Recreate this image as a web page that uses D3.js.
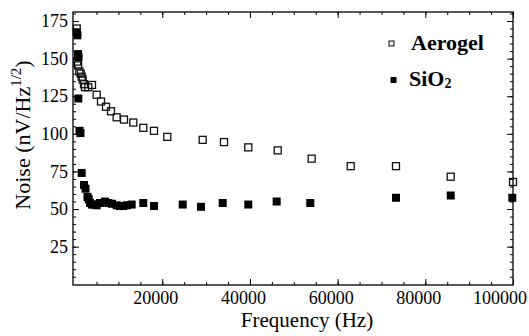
<!DOCTYPE html>
<html>
<head>
<meta charset="utf-8">
<script src="https://cdn.jsdelivr.net/npm/d3@7"></script>
<style>
  body { margin: 0; background: #fff; }
  svg text { font-family: "Liberation Serif", "Times New Roman", serif; fill: #000; }
  .tick text { font-size: 18px; }
  .tick line { stroke: #000; stroke-width: 1; }
</style>
</head>
<body>
<div id="chart"></div>
<script>
// Data
const aerogelFreq = [480, 600, 800, 1070, 1390, 1620, 1850, 2140, 2370, 3120, 3970, 5040, 6020, 7160, 8300,
    9600, 11270, 13390, 15670, 18110, 21140, 29220, 34080, 39620, 46330, 54080, 62980, 73310, 85790, 100000];
const aerogelNoise = [170, 148, 145.5, 141.5, 140, 138, 136, 133, 131, 131, 132.5, 126, 121.5, 118, 115,
    111, 109.5, 107.5, 104, 102, 98, 96, 94.5, 91, 89, 83.5, 78.5, 78.5, 71.5, 68];

const sio2Freq = [500, 650, 800, 900, 850, 1120, 1340, 1620, 2140, 2490, 2940, 3220, 3510, 3970, 4420, 5040,
    5790, 6930, 7690, 8530, 9600, 10360, 11110, 11950, 13020, 15670, 18110, 24660, 28830, 33780, 39620,
    46090, 53760, 73310, 85790, 99840];
const sio2Noise = [167.5, 165.5, 153, 151, 123.5, 102, 100.5, 74, 66, 63.5, 58, 56.5, 54, 53, 53, 52.5,
    54, 55, 54, 53.5, 52.5, 52, 52, 52.5, 53, 54, 52, 53, 51.5, 54, 53,
    55, 54, 57.5, 59, 57.5];

const xMajorTicks = [20000, 40000, 60000, 80000, 100000];
const xMinorTicks = d3.range(5000, 100001, 5000);
const yMajorTicks = [25, 50, 75, 100, 125, 150, 175];
const yMinorTicks = d3.range(5, 181, 5);

const width = 529, height = 336;
const plot = {left: 73, right: 513, top: 12, bottom: 285};

const svg = d3.select("#chart")
    .append("svg")
    .attr("width", width)
    .attr("height", height);

const x = d3.scaleLinear().domain([-365, 100000]).range([plot.left, plot.right]);
const y = d3.scaleLinear().domain([-0.5, 181]).range([plot.bottom, plot.top]);

// Minor ticks, pointing inward on all four sides
svg.append("g")
    .attr("transform", `translate(0,${plot.bottom})`)
    .call(d3.axisBottom(x).tickValues(xMinorTicks).tickSize(-3).tickFormat(""));
svg.append("g")
    .attr("transform", `translate(0,${plot.top})`)
    .call(d3.axisTop(x).tickValues(xMinorTicks).tickSize(-3).tickFormat(""));
svg.append("g")
    .attr("transform", `translate(${plot.left},0)`)
    .call(d3.axisLeft(y).tickValues(yMinorTicks).tickSize(-3).tickFormat(""));
svg.append("g")
    .attr("transform", `translate(${plot.right},0)`)
    .call(d3.axisRight(y).tickValues(yMinorTicks).tickSize(-3).tickFormat(""));

// Major ticks with labels
const xAxis = svg.append("g")
    .attr("transform", `translate(0,${plot.bottom})`)
    .call(d3.axisBottom(x).tickValues(xMajorTicks).tickSize(-6).tickPadding(6).tickFormat(d3.format("d")));
xAxis.selectAll("text").attr("dx", -7);

svg.append("g")
    .attr("transform", `translate(0,${plot.top})`)
    .call(d3.axisTop(x).tickValues(xMajorTicks).tickSize(-6).tickFormat(""));

svg.append("g")
    .attr("transform", `translate(${plot.left},0)`)
    .call(d3.axisLeft(y).tickValues(yMajorTicks).tickSize(-6).tickPadding(5));

svg.append("g")
    .attr("transform", `translate(${plot.right},0)`)
    .call(d3.axisRight(y).tickValues(yMajorTicks).tickSize(-6).tickFormat(""));

svg.selectAll(".domain").remove();

// keep the last x label inside the picture
xAxis.selectAll("text").each(function() {
    const b = this.getBBox();
    const tx = +this.parentNode.getAttribute("transform").match(/translate\(([-\d.]+)/)[1];
    const over = tx + b.x + b.width - (width - 2);
    if (over > 0) d3.select(this).attr("dx", -7 - over);
});

// Frame
svg.append("rect")
    .attr("x", plot.left)
    .attr("y", plot.top)
    .attr("width", plot.right - plot.left)
    .attr("height", plot.bottom - plot.top)
    .attr("fill", "none")
    .attr("stroke", "#000")
    .attr("stroke-width", 1.3);

// Markers
const aerogel = aerogelFreq.map((f, i) => ({f, v: aerogelNoise[i]}));
const sio2 = sio2Freq.map((f, i) => ({f, v: sio2Noise[i]}));
const s = 7;

svg.append("g").selectAll("rect")
    .data(sio2)
    .enter()
    .append("rect")
    .attr("x", d => x(d.f) - s / 2 - 0.5)
    .attr("y", d => y(d.v) - s / 2 - 0.5)
    .attr("width", s + 1)
    .attr("height", s + 1)
    .attr("fill", "#000");

svg.append("g").selectAll("rect")
    .data(aerogel)
    .enter()
    .append("rect")
    .attr("x", d => x(d.f) - s / 2)
    .attr("y", d => y(d.v) - s / 2)
    .attr("width", s)
    .attr("height", s)
    .attr("fill", "none")
    .attr("stroke", "#111")
    .attr("stroke-width", 1.3);

// Legend
svg.append("rect")
    .attr("x", 389).attr("y", 41).attr("width", 5).attr("height", 5)
    .attr("fill", "#fff").attr("stroke", "#000").attr("stroke-width", 1);
svg.append("text")
    .attr("x", 411).attr("y", 49.5)
    .attr("font-size", 22).attr("font-weight", "bold")
    .text("Aerogel");

svg.append("rect")
    .attr("x", 390.5).attr("y", 77).attr("width", 6).attr("height", 6)
    .attr("fill", "#000");
const sioLabel = svg.append("text")
    .attr("x", 409).attr("y", 86)
    .attr("font-size", 22).attr("font-weight", "bold");
sioLabel.append("tspan").text("SiO");
sioLabel.append("tspan").attr("font-size", 14).attr("dy", 1.5).text("2");

// Axis titles
svg.append("text")
    .attr("x", 307)
    .attr("y", 327)
    .attr("text-anchor", "middle")
    .attr("font-size", 21)
    .text("Frequency (Hz)");

const yTitle = svg.append("text")
    .attr("transform", "translate(30,135) rotate(-90)")
    .attr("text-anchor", "middle")
    .attr("font-size", 22);
yTitle.append("tspan").text("Noise (nV/Hz");
yTitle.append("tspan").attr("font-size", 15).attr("dy", -9).text("1/2");
yTitle.append("tspan").attr("dy", 9).text(")");
</script>
</body>
</html>
